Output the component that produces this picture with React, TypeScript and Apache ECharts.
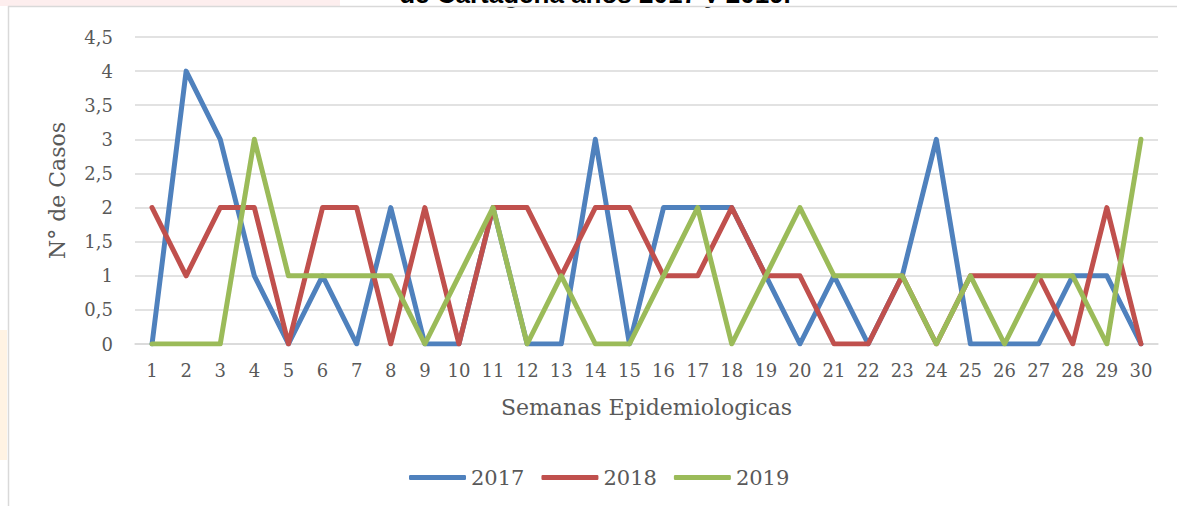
import React, { useEffect, useRef } from "react";
import * as echarts from "echarts";

const weeks = Array.from({ length: 30 }, (_, i) => String(i + 1));
const s2017 = [0, 4, 3, 1, 0, 1, 0, 2, 0, 0, 2, 0, 0, 3, 0, 2, 2, 2, 1, 0, 1, 0, 1, 3, 0, 0, 0, 1, 1, 0];
const s2018 = [2, 1, 2, 2, 0, 2, 2, 0, 2, 0, 2, 2, 1, 2, 2, 1, 1, 2, 1, 1, 0, 0, 1, 0, 1, 1, 1, 0, 2, 0];
const s2019 = [0, 0, 0, 3, 1, 1, 1, 1, 0, 1, 2, 0, 1, 0, 0, 1, 2, 0, 1, 2, 1, 1, 1, 0, 1, 0, 1, 1, 0, 3];
const seriesNames = ["2017", "2018", "2019"];
const colors = ["#4F81BD", "#C0504D", "#9BBB59"];
const titleText = "de Cartagena años 2017 y 2019.";

const FONT = "'DejaVu Serif', serif";

export default function App() {
  const ref = useRef<HTMLDivElement>(null);
  useEffect(() => {
    if (!ref.current) return;
    const chart = echarts.init(ref.current, undefined, { renderer: "svg" });
    const data = [s2017, s2018, s2019];
    chart.setOption({
      animation: false,
      backgroundColor: "#ffffff",
      grid: { left: 135, right: 19, top: 37, bottom: 162 },
      legend: {
        data: seriesNames,
        left: 404,
        top: 462,
        icon: "roundRect",
        itemWidth: 57,
        itemHeight: 5,
        itemGap: 17,
        textStyle: { fontFamily: FONT, fontSize: 21, color: "#595959" },
      },
      xAxis: {
        type: "category",
        data: weeks,
        boundaryGap: true,
        name: "Semanas Epidemiologicas",
        nameLocation: "middle",
        nameGap: 52,
        nameTextStyle: { fontFamily: FONT, fontSize: 22, color: "#595959" },
        axisLine: { show: true, lineStyle: { color: "#d9d9d9", width: 1.5 } },
        axisTick: { show: false },
        axisLabel: { fontFamily: FONT, fontSize: 18, color: "#595959", margin: 17, interval: 0 },
      },
      yAxis: {
        type: "value",
        min: 0,
        max: 4.5,
        interval: 0.5,
        name: "N° de Casos",
        nameLocation: "middle",
        nameGap: 67,
        nameRotate: 90,
        nameTextStyle: { fontFamily: FONT, fontSize: 22, color: "#595959" },
        axisLine: { show: false },
        axisTick: { show: false },
        splitLine: { lineStyle: { color: "#d9d9d9", width: 1.5 } },
        axisLabel: {
          fontFamily: FONT,
          fontSize: 18,
          color: "#595959",
          margin: 22,
          formatter: (v: number) => String(v).replace(".", ","),
        },
      },
      series: seriesNames.map((n, i) => ({
        name: n,
        type: "line",
        data: data[i],
        symbol: "none",
        color: colors[i],
        lineStyle: { width: 5, color: colors[i], cap: "round", join: "round" },
      })),
      graphic: [
        { type: "rect", z: -10, shape: { x: 0, y: 0, width: 340, height: 6 }, style: { fill: "#fdeeee" } },
        { type: "rect", z: -10, shape: { x: 0, y: 330, width: 7, height: 130 }, style: { fill: "#fff3e3" } },
        {
          type: "text",
          z: 10,
          x: 595,
          y: -6,
          style: {
            text: titleText,
            font: "bold 26px 'Liberation Sans', Arial, sans-serif",
            fill: "#000000",
            align: "center",
            verticalAlign: "middle",
          },
        },
        { type: "rect", z: 11, shape: { x: 360, y: 3, width: 480, height: 4 }, style: { fill: "#ffffff" } },
        { type: "line", z: 12, shape: { x1: 8, y1: 6.5, x2: 1177, y2: 6.5 }, style: { stroke: "#d9d9d9", lineWidth: 1.5 } },
        { type: "line", z: 12, shape: { x1: 8.5, y1: 6, x2: 8.5, y2: 506 }, style: { stroke: "#d9d9d9", lineWidth: 1.5 } },
      ],
    });
    return () => chart.dispose();
  }, []);
  return (
    <div
      ref={ref}
      style={{ position: "fixed", left: 0, top: 0, width: 1177, height: 506, background: "#fff" }}
    />
  );
}
